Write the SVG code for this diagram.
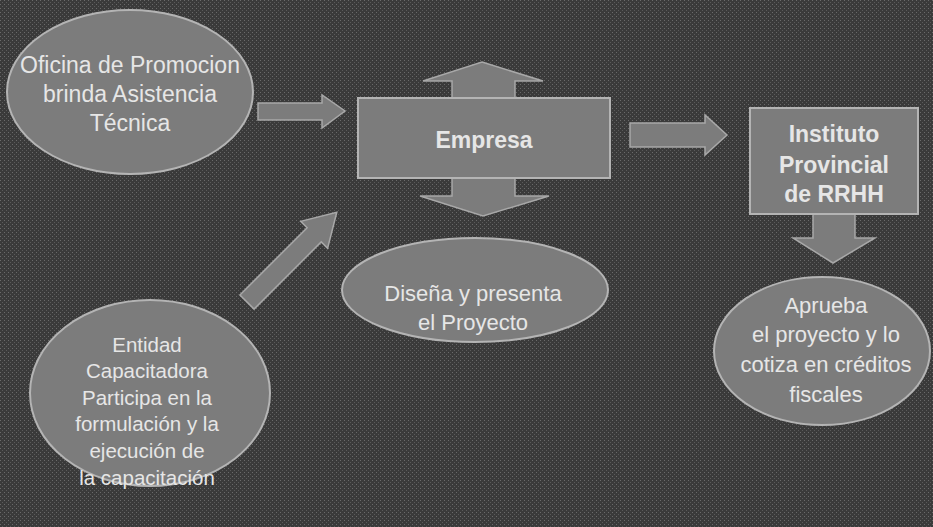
<svg xmlns="http://www.w3.org/2000/svg" width="933" height="527" viewBox="0 0 933 527">
<style>
.shape{fill:#7c7c7c;stroke:#b4b4b4;stroke-width:2}
.arrow{fill:#7c7c7c;stroke:#a8a8a8;stroke-width:1.5}
.t{font-family:"Liberation Sans",Arial,sans-serif;fill:#e6e6e6;text-anchor:middle}
.b{font-weight:bold}
</style>
<defs>
<pattern id="noise" width="4" height="4" patternUnits="userSpaceOnUse">
<rect width="4" height="4" fill="#3a3a3a"/>
<rect x="0" y="0" width="1" height="1" fill="#6a6a6a"/>
<rect x="2" y="2" width="1" height="1" fill="#5a5a5a"/>
</pattern>
</defs>
<rect width="933" height="527" fill="url(#noise)"/>
<g id="connectors">
<polygon class="arrow" points="258,103 322,103 322,95 345,111 322,128 322,120 258,120"/>
<polygon class="arrow" points="482,62 543,81 515,81 515,196 549,196 483,216 420,196 452,196 452,81 423,81"/>
<polygon class="arrow" points="630,123 705,123 705,115 727,135 705,155 705,147 630,147"/>
<polygon class="arrow" points="813,214 855,214 855,238 875,238 833,263 793,238 813,238"/>
<polygon class="arrow" transform="translate(247,302) rotate(-45)" points="0,-10 95,-10 95,-19 127,0 95,19 95,10 0,10"/>
</g>
<g id="node-oficina">
<ellipse class="shape" cx="130" cy="92" rx="123" ry="82"/>
<text class="t" font-size="23" x="130" y="73">Oficina de Promocion</text>
<text class="t" font-size="23" x="130" y="102">brinda Asistencia</text>
<text class="t" font-size="23" x="130" y="131">Técnica</text>
</g>
<g id="node-empresa">
<rect class="shape" x="358" y="98" width="252" height="80"/>
<text class="t b" font-size="23" x="484" y="148">Empresa</text>
</g>
<g id="node-instituto">
<rect class="shape" x="750" y="108" width="168" height="106"/>
<text class="t b" font-size="23" x="834" y="142">Instituto</text>
<text class="t b" font-size="23" x="834" y="173">Provincial</text>
<text class="t b" font-size="23" x="834" y="202">de RRHH</text>
</g>
<g id="node-disena">
<ellipse class="shape" cx="475" cy="290" rx="133" ry="52"/>
<text class="t" font-size="22" x="473" y="301">Diseña y presenta</text>
<text class="t" font-size="22" x="473" y="330">el Proyecto</text>
</g>
<g id="node-aprueba">
<ellipse class="shape" cx="822" cy="351" rx="108" ry="74"/>
<text class="t" font-size="22" x="826" y="313">Aprueba</text>
<text class="t" font-size="22" x="826" y="342">el proyecto y lo</text>
<text class="t" font-size="22" x="826" y="372">cotiza en créditos</text>
<text class="t" font-size="22" x="826" y="402">fiscales</text>
</g>
<g id="node-entidad">
<ellipse class="shape" cx="150" cy="393" rx="120" ry="93"/>
<text class="t" font-size="20.5" x="147" y="352">Entidad</text>
<text class="t" font-size="20.5" x="147" y="378">Capacitadora</text>
<text class="t" font-size="20.5" x="147" y="405">Participa en la</text>
<text class="t" font-size="20.5" x="147" y="431">formulación y la</text>
<text class="t" font-size="20.5" x="147" y="458">ejecución de</text>
<text class="t" font-size="20.5" x="147" y="485">la capacitación</text>
</g>
</svg>
